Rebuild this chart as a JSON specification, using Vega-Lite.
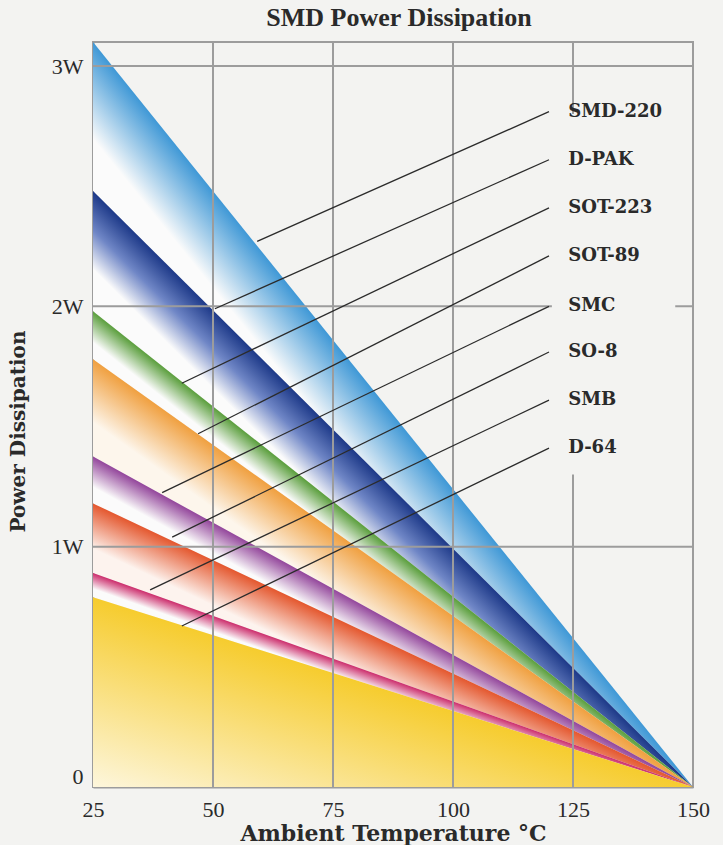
{
  "$schema": "https://vega.github.io/schema/vega-lite/v6.json",
  "width": 600,
  "height": 745,
  "autosize": {"type": "none"},
  "padding": {"left": 93, "top": 42, "right": 30, "bottom": 58},
  "background": "#f3f3f1",
  "title": {"text": "SMD Power Dissipation", "font": "Liberation Serif", "fontSize": 26, "fontWeight": "bold", "color": "#2a2a2a", "anchor": "middle", "offset": 10, "dx": 6},
  "config": {
    "view": {"stroke": "#9c9c9c", "strokeWidth": 2, "fill": "#f3f3f1"},
    "axis": {"grid": false, "ticks": false, "domainColor": "#9c9c9c", "domainWidth": 2, "labelFont": "Liberation Serif", "labelFontSize": 22, "labelColor": "#2a2a2a", "titleFont": "DejaVu Serif", "titleFontWeight": "bold", "titleFontSize": 20, "titleColor": "#2a2a2a", "zindex": 1, "labelOverlap": false, "labelFlush": false}
  },
  "datasets": {
    "bands": [
      {"pkg": "SMD-220", "temp": 25, "power": 3.1, "power2": 2.48},
      {"pkg": "SMD-220", "temp": 150, "power": 0, "power2": 0},
      {"pkg": "D-PAK", "temp": 25, "power": 2.48, "power2": 1.98},
      {"pkg": "D-PAK", "temp": 150, "power": 0, "power2": 0},
      {"pkg": "SOT-223", "temp": 25, "power": 1.98, "power2": 1.78},
      {"pkg": "SOT-223", "temp": 150, "power": 0, "power2": 0},
      {"pkg": "SOT-89", "temp": 25, "power": 1.78, "power2": 1.375},
      {"pkg": "SOT-89", "temp": 150, "power": 0, "power2": 0},
      {"pkg": "SMC", "temp": 25, "power": 1.375, "power2": 1.18},
      {"pkg": "SMC", "temp": 150, "power": 0, "power2": 0},
      {"pkg": "SO-8", "temp": 25, "power": 1.18, "power2": 0.89},
      {"pkg": "SO-8", "temp": 150, "power": 0, "power2": 0},
      {"pkg": "SMB", "temp": 25, "power": 0.89, "power2": 0.79},
      {"pkg": "SMB", "temp": 150, "power": 0, "power2": 0},
      {"pkg": "D-64", "temp": 25, "power": 0.79, "power2": 0},
      {"pkg": "D-64", "temp": 150, "power": 0, "power2": 0}
    ],
    "labels": [
      {"pkg": "SMD-220", "temp": 59.2, "power": 2.27, "ly": 2.81},
      {"pkg": "D-PAK", "temp": 50.4, "power": 1.99, "ly": 2.61},
      {"pkg": "SOT-223", "temp": 43.5, "power": 1.68, "ly": 2.41},
      {"pkg": "SOT-89", "temp": 46.9, "power": 1.47, "ly": 2.21},
      {"pkg": "SMC", "temp": 39.4, "power": 1.225, "ly": 2.0},
      {"pkg": "SO-8", "temp": 41.5, "power": 1.04, "ly": 1.81},
      {"pkg": "SMB", "temp": 36.9, "power": 0.82, "ly": 1.61},
      {"pkg": "D-64", "temp": 43.5, "power": 0.67, "ly": 1.41}
    ]
  },
  "layer": [
    {
      "data": {"name": "bands"},
      "transform": [{"filter": "datum.pkg == 'SMD-220'"}],
      "mark": {"type": "area", "color": {"gradient": "linear", "x1": 0.5, "y1": 0.5, "x2": 0.435, "y2": 0.565, "stops": [{"offset": 0, "color": "#3f98d6"}, {"offset": 1, "color": "#fbfbfb"}]}},
      "encoding": {
        "x": {"field": "temp", "type": "quantitative", "scale": {"domain": [25, 150], "nice": false, "zero": false}, "axis": {"values": [25, 50, 75, 100, 125, 150], "labelPadding": 12, "title": "Ambient Temperature °C", "titleFontSize": 22, "titlePadding": 3}},
        "y": {"field": "power", "type": "quantitative", "scale": {"domain": [0, 3.1], "nice": false, "zero": false}, "axis": {"values": [0, 1, 2, 3], "labelExpr": "datum.value == 0 ? '0' : datum.value + 'W'", "labelPadding": 10, "labelOffset": {"condition": {"test": "datum.value == 0", "value": -11}, "value": 0}, "title": "Power Dissipation", "titleX": -75, "titleY": 389, "titleBaseline": "middle", "titleAlign": "center"}},
        "y2": {"field": "power2"}
      }
    },
    {
      "data": {"name": "bands"},
      "transform": [{"filter": "datum.pkg == 'D-PAK'"}],
      "mark": {"type": "area", "color": {"gradient": "linear", "x1": 0.5, "y1": 0.5, "x2": 0.4345, "y2": 0.5655, "stops": [{"offset": 0, "color": "#1d3988"}, {"offset": 0.5, "color": "#6f86c6"}, {"offset": 1, "color": "#fbfbfb"}]}},
      "encoding": {"x": {"field": "temp", "type": "quantitative"}, "y": {"field": "power", "type": "quantitative"}, "y2": {"field": "power2"}}
    },
    {
      "data": {"name": "bands"},
      "transform": [{"filter": "datum.pkg == 'SOT-223'"}],
      "mark": {"type": "area", "color": {"gradient": "linear", "x1": 0.5, "y1": 0.5, "x2": 0.4672, "y2": 0.5328, "stops": [{"offset": 0, "color": "#5a9e3c"}, {"offset": 1, "color": "#fbfbfb"}]}},
      "encoding": {"x": {"field": "temp", "type": "quantitative"}, "y": {"field": "power", "type": "quantitative"}, "y2": {"field": "power2"}}
    },
    {
      "data": {"name": "bands"},
      "transform": [{"filter": "datum.pkg == 'SOT-89'"}],
      "mark": {"type": "area", "color": {"gradient": "linear", "x1": 0.5, "y1": 0.5, "x2": 0.4261, "y2": 0.5739, "stops": [{"offset": 0, "color": "#f0a040"}, {"offset": 1, "color": "#fdf6ec"}]}},
      "encoding": {"x": {"field": "temp", "type": "quantitative"}, "y": {"field": "power", "type": "quantitative"}, "y2": {"field": "power2"}}
    },
    {
      "data": {"name": "bands"},
      "transform": [{"filter": "datum.pkg == 'SMC'"}],
      "mark": {"type": "area", "color": {"gradient": "linear", "x1": 0.5, "y1": 0.5, "x2": 0.4539, "y2": 0.5461, "stops": [{"offset": 0, "color": "#93469b"}, {"offset": 1, "color": "#fbfbfb"}]}},
      "encoding": {"x": {"field": "temp", "type": "quantitative"}, "y": {"field": "power", "type": "quantitative"}, "y2": {"field": "power2"}}
    },
    {
      "data": {"name": "bands"},
      "transform": [{"filter": "datum.pkg == 'SO-8'"}],
      "mark": {"type": "area", "color": {"gradient": "linear", "x1": 0.5, "y1": 0.5, "x2": 0.4201, "y2": 0.5799, "stops": [{"offset": 0, "color": "#e4572e"}, {"offset": 1, "color": "#fdf3ee"}]}},
      "encoding": {"x": {"field": "temp", "type": "quantitative"}, "y": {"field": "power", "type": "quantitative"}, "y2": {"field": "power2"}}
    },
    {
      "data": {"name": "bands"},
      "transform": [{"filter": "datum.pkg == 'SMB'"}],
      "mark": {"type": "area", "color": {"gradient": "linear", "x1": 0.5, "y1": 0.5, "x2": 0.4635, "y2": 0.5365, "stops": [{"offset": 0, "color": "#cc2d6c"}, {"offset": 1, "color": "#fbfbfb"}]}},
      "encoding": {"x": {"field": "temp", "type": "quantitative"}, "y": {"field": "power", "type": "quantitative"}, "y2": {"field": "power2"}}
    },
    {
      "data": {"name": "bands"},
      "transform": [{"filter": "datum.pkg == 'D-64'"}],
      "mark": {"type": "area", "color": {"gradient": "linear", "x1": 0.5, "y1": 0.5, "x2": 0, "y2": 1, "stops": [{"offset": 0, "color": "#f6cc2e"}, {"offset": 1, "color": "#fdf6dc"}]}},
      "encoding": {"x": {"field": "temp", "type": "quantitative"}, "y": {"field": "power", "type": "quantitative"}, "y2": {"field": "power2"}}
    },
    {
      "data": {"values": [{"temp": 50}, {"temp": 75}, {"temp": 100}, {"temp": 125}]},
      "mark": {"type": "rule", "color": "#9c9c9c", "strokeWidth": 2},
      "encoding": {"x": {"field": "temp", "type": "quantitative"}}
    },
    {
      "data": {"values": [{"power": 1}, {"power": 2}, {"power": 3}]},
      "mark": {"type": "rule", "color": "#9c9c9c", "strokeWidth": 2},
      "encoding": {"y": {"field": "power", "type": "quantitative"}}
    },
    {
      "data": {"values": [{}]},
      "mark": {"type": "rect", "color": "#f3f3f1"},
      "encoding": {"x": {"datum": 120.6}, "x2": {"datum": 146.3}, "y": {"datum": 1.3}, "y2": {"datum": 2.8}}
    },
    {
      "data": {"name": "labels"},
      "mark": {"type": "rule", "color": "#2b2b2b", "strokeWidth": 1.3},
      "encoding": {"x": {"field": "temp", "type": "quantitative"}, "y": {"field": "power", "type": "quantitative"}, "x2": {"datum": 120}, "y2": {"field": "ly"}}
    },
    {
      "data": {"name": "labels"},
      "mark": {"type": "text", "align": "left", "baseline": "middle", "font": "DejaVu Serif", "fontWeight": "bold", "fontSize": 18, "color": "#2a2a2a"},
      "encoding": {"x": {"datum": 124}, "y": {"field": "ly", "type": "quantitative"}, "text": {"field": "pkg"}}
    }
  ]
}
